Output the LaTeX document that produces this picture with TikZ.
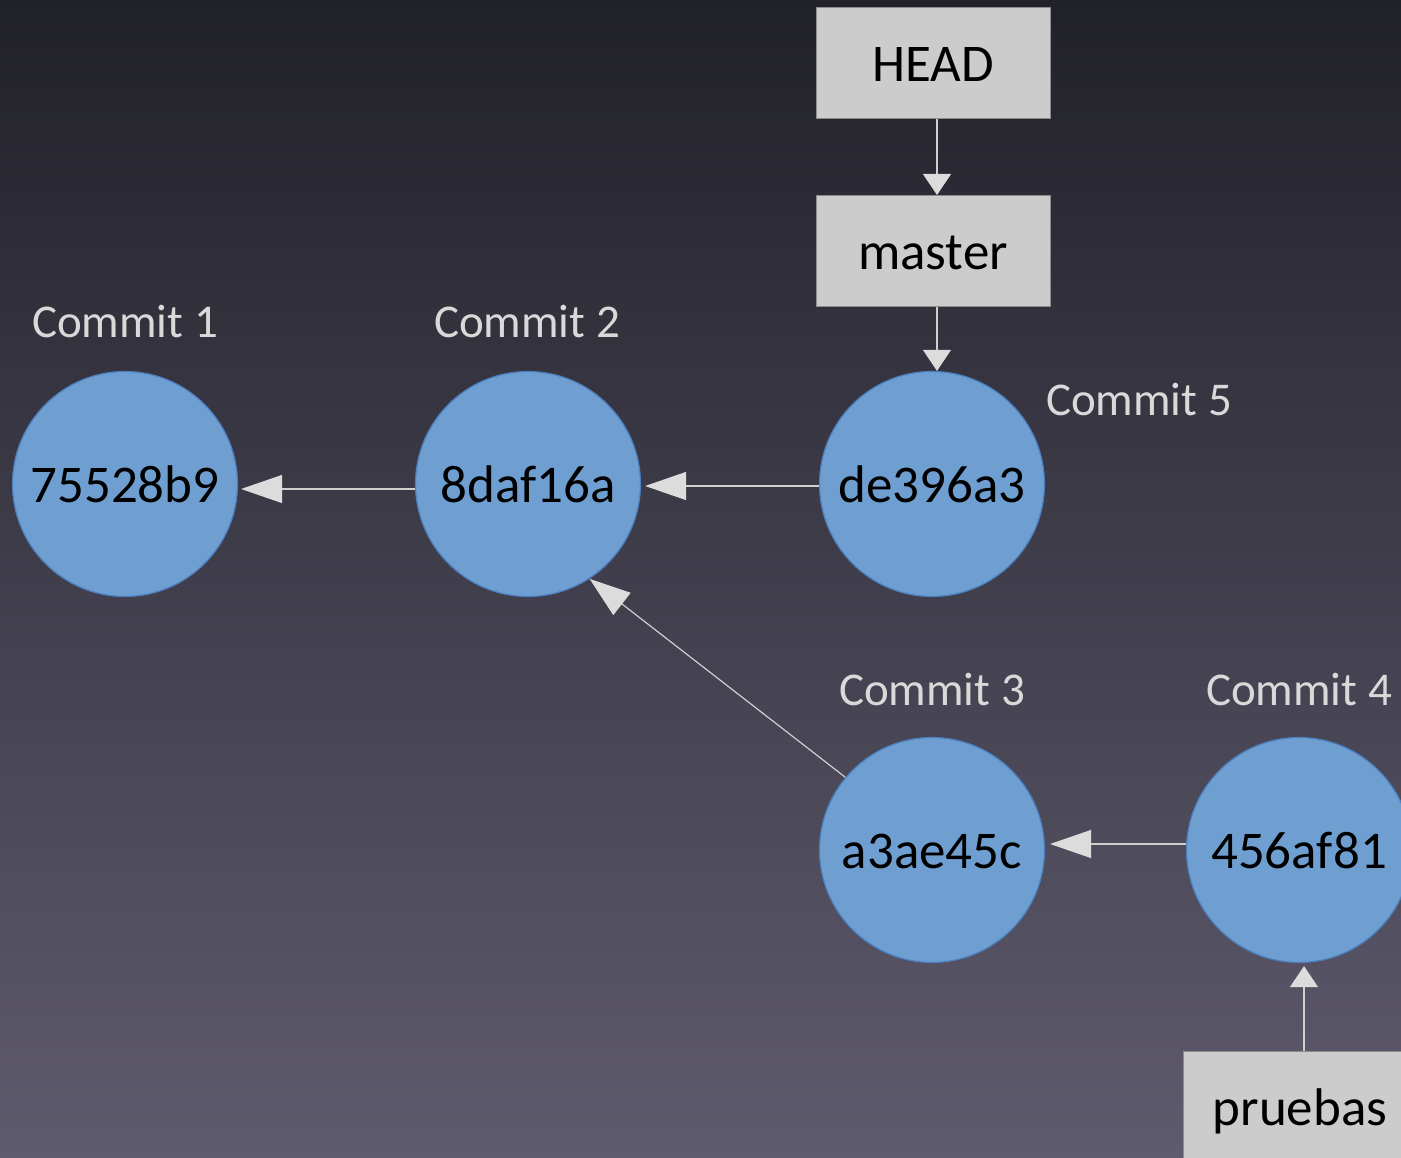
\documentclass[tikz,border=0pt]{standalone}
\usepackage{fontspec}
\setmainfont{Carlito}
\usetikzlibrary{arrows.meta}
\definecolor{bgtop}{HTML}{212129}
\definecolor{bgbot}{HTML}{5F5B6E}
\definecolor{cfill}{HTML}{6F9ED0}
\definecolor{cline}{HTML}{4A7EBE}
\definecolor{boxfill}{HTML}{CCCCCC}
\definecolor{boxline}{HTML}{8C8C8C}
\definecolor{arrcol}{HTML}{CFCFCF}
\definecolor{tipcol}{HTML}{DCDCDC}
\definecolor{lblcol}{HTML}{D9D9D9}
\tikzset{
  commit/.style={circle, fill=cfill, draw=cline, line width=1.2pt, minimum size=225pt, inner sep=0pt,
    font=\fontsize{53}{60}\selectfont, text=black, text height=36pt, text depth=0pt},
  refbox/.style={rectangle, fill=boxfill, draw=boxline, line width=1pt, minimum width=234pt, minimum height=111pt,
    inner sep=0pt, font=\fontsize{53}{60}\selectfont, text=black, text height=38pt, text depth=0pt},
  clabel/.style={anchor=base, inner sep=0pt, text=lblcol, font=\fontsize{47}{52}\selectfont},
  longarr/.style={draw=arrcol, line width=1.2pt, -{Triangle[length=41pt,width=28pt,color=tipcol,fill=tipcol]}},
  shortarr/.style={draw=arrcol, line width=1.2pt, -{Triangle[length=21pt,width=28pt,color=tipcol,fill=tipcol]}}
}
\begin{document}
\begin{tikzpicture}[x=1pt,y=-1pt]
\useasboundingbox (0,0) rectangle (1401,1158);
\clip (0,0) rectangle (1401,1158);
\shade[top color=bgtop, bottom color=bgbot] (0,0) rectangle (1401,1158);

% commits
\node[commit] (c1) at (125,484) {75528b9};
\node[commit] (c2) at (528,484) {8daf16a};
\node[commit] (c5) at (932,484) {de396a3};
\node[commit] (c3) at (932,850) {a3ae45c};
\node[commit] (c4) at (1299,850) {456af81};

% labels
\node[clabel] (l1) at (125,338) {Commit 1};
\node[clabel] (l2) at (527,338) {Commit 2};
\node[clabel] (l5) at (1139,416) {Commit 5};
\node[clabel] (l3) at (932,705) {Commit 3};
\node[clabel] (l4) at (1299,705) {Commit 4};

% refs
\node[refbox] (head) at (933,63) {HEAD};
\node[refbox] (master) at (933,251) {master};
\node[refbox] (pruebas) at (1300,1106.5) {pruebas};

% connectors
\draw[shortarr] ([xshift=4pt]head.south) -- ([xshift=4pt]master.north);
\draw[shortarr] ([xshift=4pt]master.south) -- ([xshift=5pt]c5.north);
\draw[longarr, shorten >=4pt] ([yshift=-2pt]c5.west) -- ([yshift=-2pt]c2.east);
\draw[longarr, shorten >=3pt] ([yshift=-5pt]c2.west) -- ([yshift=-5pt]c1.east);
\draw[longarr] (c3.140) -- (c2.303);
\draw[longarr, shorten >=5pt] ([yshift=6pt]c4.west) -- ([yshift=6pt]c3.east);
\draw[shortarr, shorten >=3pt] ([xshift=4pt]pruebas.north) -- ([xshift=5pt]c4.south);
\end{tikzpicture}
\end{document}
